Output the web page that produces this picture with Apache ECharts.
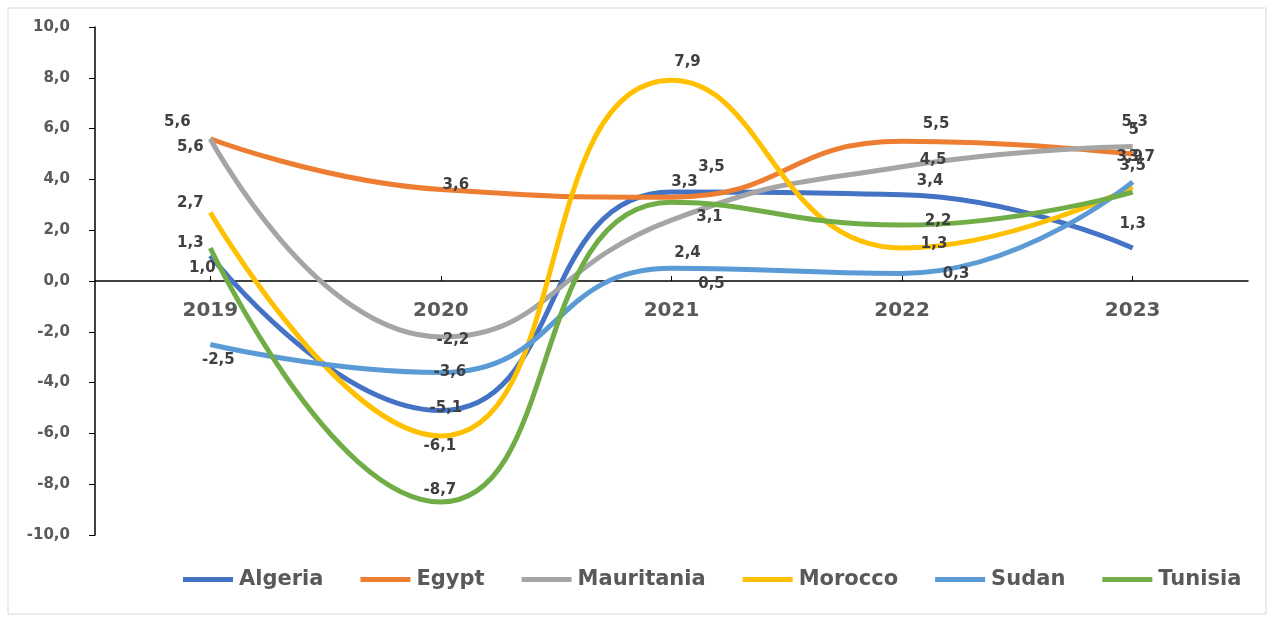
<!DOCTYPE html>
<html>
<head>
<meta charset="utf-8">
<script src="https://cdn.jsdelivr.net/npm/echarts@6/dist/echarts.min.js"></script>
<style>
    html, body { margin: 0; padding: 0; background: #fff; }
    #chart { width: 1274px; height: 619px; }
</style>
</head>
<body>
<div id="chart"></div>
<script>
// 数据
var years = ['2019', '2020', '2021', '2022', '2023'];
var countries = ['Algeria', 'Egypt', 'Mauritania', 'Morocco', 'Sudan', 'Tunisia'];
var algeria = [1.0, -5.1, 3.5, 3.4, 1.3];
var egypt = [5.6, 3.6, 3.3, 5.5, 5.0];
var mauritania = [5.6, -2.2, 2.4, 4.5, 5.3];
var morocco = [2.7, -6.1, 7.9, 1.3, 3.7];
var sudan = [-2.5, -3.6, 0.5, 0.3, 3.9];
var tunisia = [1.3, -8.7, 3.1, 2.2, 3.5];

var colors = ['#4472C4', '#ED7D31', '#A5A5A5', '#FFC000', '#5B9BD5', '#70AD47'];

// 标签偏移（像素）
var labelOffsets = [
    [[-8, 13], [5, -2], [40, -25], [28, -14], [0, -24]],
    [[-33, -17], [15, -4], [13, -15], [34, -17], [1, -24]],
    [[-20, 8], [12, 3], [16, 33], [31, -7], [2, -24]],
    [[-20, -9], [-1, 10], [16, -18], [32, -4], [9, -30]],
    [[8, 16], [9, 0], [40, 16], [54, 1], [-3, -25]],
    [[-20, -5], [-1, -12], [38, 15], [36, -4], [0, -26]]
];

function fmt(v) {
    return v.toFixed(1).replace('.', ',');
}

var allData = [algeria, egypt, mauritania, morocco, sudan, tunisia];
var series = [];
for (var i = 0; i < countries.length; i++) {
    var items = [];
    for (var j = 0; j < years.length; j++) {
        items.push({
            value: allData[i][j],
            label: { offset: labelOffsets[i][j] }
        });
    }
    series.push({
        name: countries[i],
        type: 'line',
        smooth: 0.5,
        symbol: 'circle',
        symbolSize: 0,
        showSymbol: true,
        lineStyle: { width: 5, color: colors[i] },
        itemStyle: { color: colors[i] },
        label: {
            show: true,
            position: 'inside',
            color: '#404040',
            fontFamily: 'DejaVu Sans',
            fontWeight: 'bold',
            fontSize: 15,
            formatter: function (p) {
                if (p.seriesName === 'Egypt' && p.dataIndex === 4) return '5';
                return fmt(p.value);
            }
        },
        data: items
    });
}

var myChart = echarts.init(document.getElementById('chart'));
option = {
    animation: false,
    color: colors,
    graphic: [{
        type: 'rect',
        shape: { x: 8, y: 8, width: 1258, height: 606 },
        style: { fill: 'none', stroke: '#d9d9d9', lineWidth: 1 }
    }],
    grid: {
        left: 95,
        right: 26,
        top: 27,
        bottom: 84
    },
    legend: {
        data: countries,
        left: 178,
        top: 564,
        icon: 'path://M0,0 L50,0 L50,5 L0,5 Z',
        itemWidth: 52,
        itemHeight: 5,
        itemGap: 37,
        textStyle: {
            color: '#595959',
            fontFamily: 'DejaVu Sans',
            fontWeight: 'bold',
            fontSize: 21
        }
    },
    xAxis: {
        type: 'category',
        data: years,
        boundaryGap: true,
        offset: -254,
        axisLine: { onZero: false, lineStyle: { color: '#000', width: 1.5 } },
        axisTick: { show: true, alignWithLabel: true, inside: true, length: 5, lineStyle: { color: '#000' } },
        axisLabel: {
            margin: 20,
            color: '#595959',
            fontFamily: 'DejaVu Sans',
            fontWeight: 'bold',
            fontSize: 20
        }
    },
    yAxis: {
        type: 'value',
        min: -10,
        max: 10,
        interval: 2,
        splitLine: { show: false },
        axisLine: { show: true, lineStyle: { color: '#000', width: 1.5 } },
        axisTick: { show: true, length: 6, lineStyle: { color: '#000' } },
        axisLabel: {
            margin: 25,
            color: '#595959',
            fontFamily: 'DejaVu Sans',
            fontWeight: 'bold',
            fontSize: 15,
            formatter: function (v) { return fmt(v); }
        }
    },
    series: series
};
myChart.setOption(option);
</script>
</body>
</html>
